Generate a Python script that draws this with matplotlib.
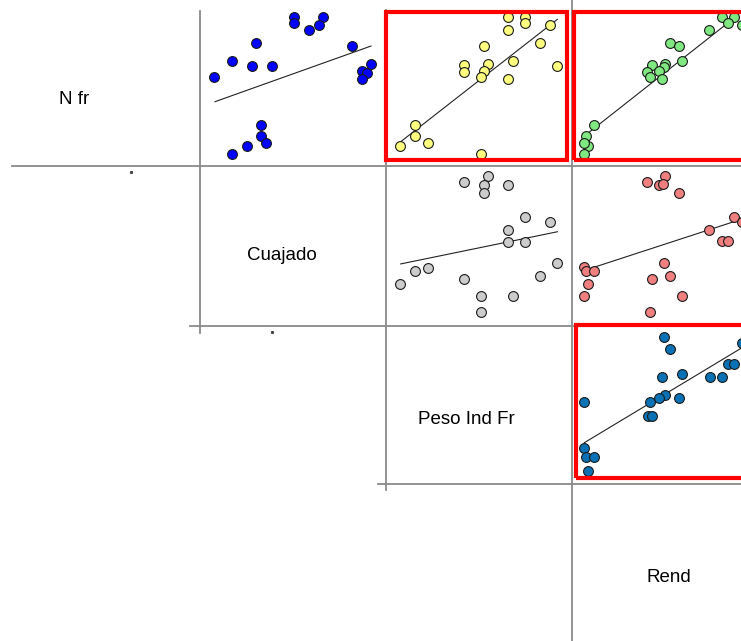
"""Scatter-plot matrix: N fr, Cuajado, Peso Ind Fr, Rend (upper triangle)."""

import matplotlib
import matplotlib.pyplot as plt
from matplotlib.lines import Line2D
from matplotlib.patches import Rectangle

matplotlib.use("Agg")
plt.rcParams["font.family"] = ["Liberation Sans", "DejaVu Sans"]

W_PX, H_PX = 741, 641

VARIABLES = ["N fr", "Cuajado", "Peso Ind Fr", "Rend"]

# Values on a 0-100 scale inside each cell (no ticks in the original).
# Row 0: N fr vs Cuajado / Peso Ind Fr / Rend
NFR_CUAJ_X = [50.8, 66.5, 50.8, 64.2, 58.9, 30.2, 82.1, 17.4, 92.2, 27.9,
              38.7, 87.2, 89.9, 7.4, 87.2, 32.9, 32.9, 35.4, 25.3, 17.4]
NFR_CUAJ_Y = [96.3, 96.3, 92.1, 90.8, 87.7, 79.5, 77.4, 67.9, 65.8, 64.5,
              64.5, 61.5, 60.2, 57.2, 55.9, 26.6, 19.4, 15.0, 13.1, 7.7]

NFR_PESO_X = [65.7, 75.0, 75.0, 88.4, 65.7, 83.2, 53.0, 68.4, 55.3, 42.2,
              92.4, 53.0, 42.2, 51.2, 65.7, 15.9, 15.9, 22.7, 7.8, 51.2]
NFR_PESO_Y = [96.3, 96.3, 92.1, 91.0, 87.7, 79.5, 77.4, 67.9, 65.8, 65.2,
              64.7, 61.5, 60.6, 57.2, 56.1, 26.6, 19.4, 15.0, 13.1, 7.7]

NFR_REND_X = [80.8, 87.5, 84.0, 91.8, 74.1, 53.0, 58.0, 59.6, 43.1, 40.4,
              42.4, 50.3, 49.6, 47.2, 48.8, 12.1, 7.8, 9.0, 6.9, 6.9]
NFR_REND_Y = [96.3, 96.3, 92.1, 91.0, 87.7, 79.5, 77.4, 67.9, 65.2, 60.6,
              57.2, 65.8, 64.1, 61.5, 56.1, 26.6, 19.4, 13.1, 15.0, 7.7]

# Row 1: Cuajado vs Peso Ind Fr / Rend
CUAJ_PESO_X = [55.3, 42.2, 53.0, 53.0, 66.0, 75.0, 88.4, 66.0, 66.0, 75.0,
               92.4, 83.2, 22.7, 15.9, 7.8, 42.2, 51.2, 68.4, 51.2]
CUAJ_PESO_Y = [93.8, 90.2, 88.1, 83.3, 88.3, 67.9, 64.8, 60.0, 52.5, 52.5,
               39.2, 31.3, 36.4, 34.4, 26.1, 29.4, 18.9, 18.9, 8.8]

CUAJ_REND_X = [50.3, 40.8, 47.2, 49.0, 58.0, 87.5, 91.8, 74.1, 80.8, 84.3,
               6.9, 7.6, 12.1, 8.7, 6.9, 49.6, 53.0, 43.1, 59.6, 42.4]
CUAJ_REND_Y = [93.8, 90.2, 88.1, 88.8, 83.3, 67.9, 65.2, 60.0, 52.9, 52.9,
               36.7, 34.4, 34.4, 26.1, 18.9, 39.2, 31.3, 29.4, 18.9, 8.8]

# Row 2: Peso Ind Fr vs Rend
PESO_REND_X = [49.7, 53.1, 91.8, 84.0, 87.5, 74.3, 80.8, 59.2, 48.8, 50.3,
               47.2, 42.2, 58.0, 41.0, 43.1, 6.9, 6.9, 7.8, 12.1, 8.7]
PESO_REND_Y = [93.2, 85.2, 89.0, 75.7, 75.7, 67.6, 67.6, 69.7, 67.6, 56.2,
               54.1, 51.9, 54.1, 43.0, 43.0, 51.9, 22.7, 16.8, 16.8, 7.9]

# Trend lines: (x0, x1), (y0, y1)
TREND = {
    (0, 1): ((8.1, 92.2), (41.5, 77.4)),
    (0, 2): ((8.2, 92.4), (15.7, 94.6)),
    (0, 3): ((7.6, 86.1), (20.0, 94.2)),
    (1, 2): ((8.2, 92.4), (38.8, 58.9)),
    (1, 3): ((7.6, 91.8), (35.0, 66.9)),
    (2, 3): ((6.9, 91.1), (25.9, 85.8)),
}

CELLS = {
    (0, 1): (NFR_CUAJ_X, NFR_CUAJ_Y, "#0000ff"),
    (0, 2): (NFR_PESO_X, NFR_PESO_Y, "#ffff80"),
    (0, 3): (NFR_REND_X, NFR_REND_Y, "#80e880"),
    (1, 2): (CUAJ_PESO_X, CUAJ_PESO_Y, "#cccccc"),
    (1, 3): (CUAJ_REND_X, CUAJ_REND_Y, "#f08080"),
    (2, 3): (PESO_REND_X, PESO_REND_Y, "#0a72b4"),
}

HIGHLIGHT = [(0, 2), (0, 3), (2, 3)]

# Layout of the grid in pixels
COL_EDGES = [12, 200, 385.5, 571.5, 757.5]
ROW_EDGES = [11, 166, 326, 483.5, 641]
# label centres inside the diagonal cells (pixels)
LABEL_POS = [(74, 99), (282, 256), (466, 419), (669, 577)]


def fx(px):
    return px / W_PX


def fy(py):
    return 1 - py / H_PX


def cell_axes(fig, r, c):
    left, right = COL_EDGES[c], COL_EDGES[c + 1]
    top, bottom = ROW_EDGES[r], ROW_EDGES[r + 1]
    ax = fig.add_axes([fx(left), fy(bottom), (right - left) / W_PX,
                       (bottom - top) / H_PX])
    ax.set_xlim(0, 100)
    ax.set_ylim(0, 100)
    ax.axis("off")
    return ax


def main():
    fig = plt.figure(figsize=(W_PX / 100, H_PX / 100), dpi=100)

    # grid separators (pixel coords: x0, x1, y0, y1)
    grid = [
        (12, 741, 166, 166), (190, 741, 326, 326), (378, 741, 483.5, 483.5),
        (200, 200, 11, 333), (385.5, 385.5, 10, 490), (571.5, 571.5, 0, 641),
    ]
    for x0, x1, y0, y1 in grid:
        fig.add_artist(Line2D([fx(x0), fx(x1)], [fy(y0), fy(y1)],
                              color="#8a8a8a", lw=1.3))
    for px, py in [(131, 172), (272, 332)]:
        fig.add_artist(Line2D([fx(px)], [fy(py)], marker="s", ms=1.2,
                              color="#444444", lw=0))

    for (r, c), (xs, ys, color) in CELLS.items():
        ax = cell_axes(fig, r, c)
        (lx, ly) = TREND[(r, c)]
        ax.plot(lx, ly, color="#222222", lw=0.8, zorder=1)
        ax.scatter(xs, ys, s=50, color=color, edgecolors="#1a1a1a",
                   linewidths=0.8, zorder=2, clip_on=False)

    for name, (px, py) in zip(VARIABLES, LABEL_POS):
        fig.text(fx(px), fy(py), name, ha="center", va="center",
                 fontsize=13.5)

    # red highlight frames, slightly inset in each cell
    insets = {(0, 2): (0.5, -4.5, 0.5, -6.5), (0, 3): (2.5, 0, 0.5, -6.5),
              (2, 3): (4.0, 0, -1.5, -5.5)}
    for r, c in HIGHLIGHT:
        dl, dr, dt, db = insets[(r, c)]
        left = COL_EDGES[c] + dl
        right = COL_EDGES[c + 1] + dr
        top = ROW_EDGES[r] + dt
        bottom = ROW_EDGES[r + 1] + db
        fig.add_artist(Rectangle((fx(left), fy(bottom)), fx(right - left),
                                 (bottom - top) / H_PX, fill=False,
                                 edgecolor="#ff0000", lw=3.0,
                                 transform=fig.transFigure, zorder=5))

    fig.savefig("out.png", dpi=100, facecolor="white")


if __name__ == "__main__":
    main()
